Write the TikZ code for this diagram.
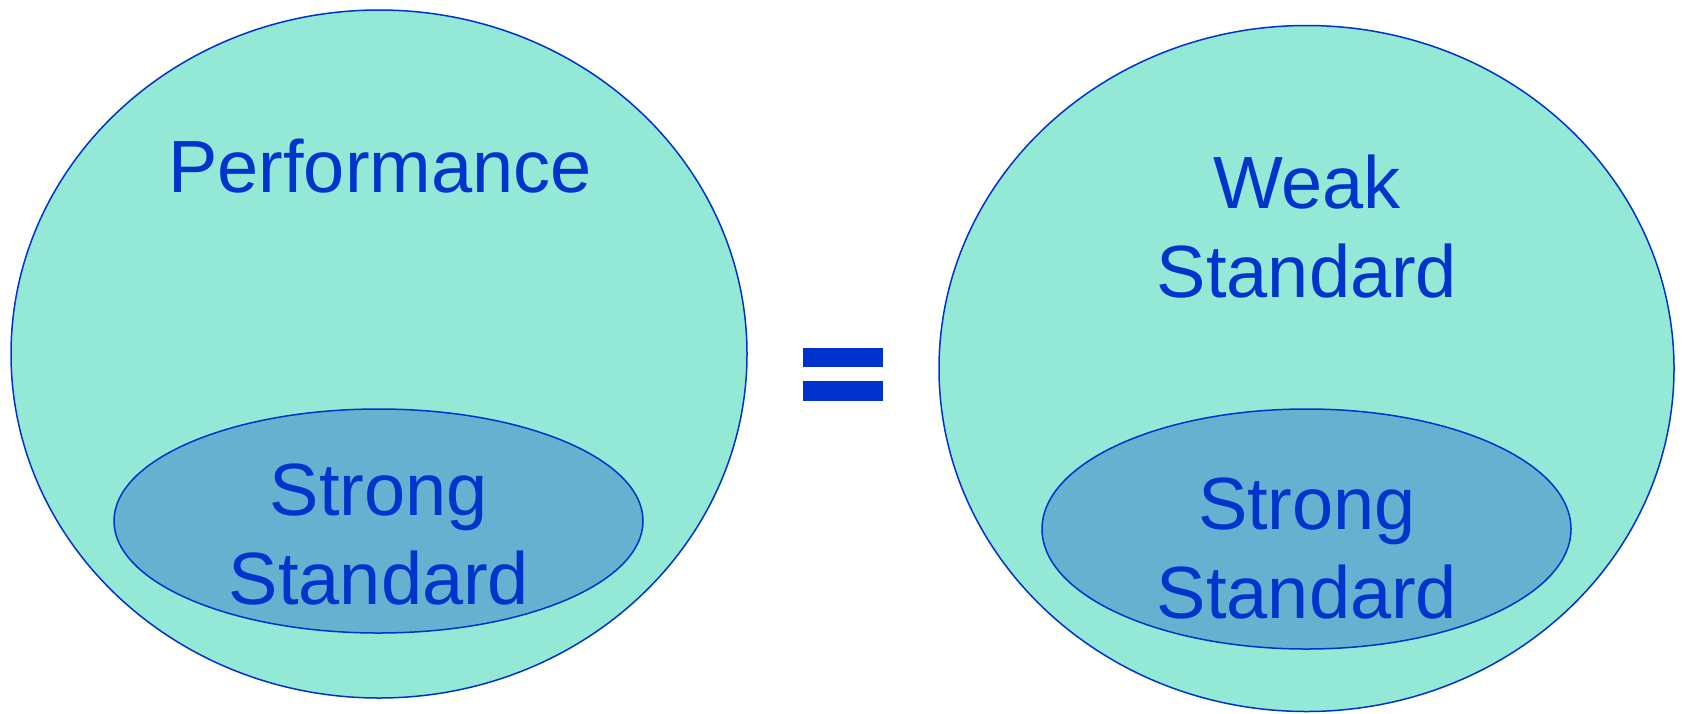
\documentclass[tikz,border=0pt]{standalone}
\usepackage{fontspec}
\setmainfont{Liberation Sans}
\definecolor{outerfill}{HTML}{94E8D6}
\definecolor{innerfill}{HTML}{66B0D0}
\definecolor{inkblue}{HTML}{0033CC}
\tikzset{
  outerset/.style={draw=inkblue, line width=1.5pt, fill=outerfill},
  innerset/.style={draw=inkblue, line width=1.5pt, fill=innerfill},
  label/.style={text=inkblue, inner sep=0pt, align=center, anchor=base,
    font=\fontsize{74}{89}\selectfont},
  eqbar/.style={fill=inkblue, draw=none}
}
\begin{document}
\begin{tikzpicture}[x=1pt,y=-1pt]
\useasboundingbox (0,0) rectangle (1683,713);
% left group
\path[outerset] (379,354) ellipse [x radius=368, y radius=344];
\path[innerset] (378.5,521) ellipse [x radius=264.5, y radius=112];
\node[label] (perf) at (380,192) {Performance};
\node[label] (strongL) at (379,604) {Strong\\Standard};
% equals sign
\path[eqbar] (803,348) rectangle (883,367);
\path[eqbar] (803,381) rectangle (883,401);
% right group
\path[outerset] (1306.5,368.5) ellipse [x radius=367.5, y radius=343];
\path[innerset] (1306.5,529) ellipse [x radius=264.5, y radius=120];
\node[label] (weak) at (1307,297) {Weak\\Standard};
\node[label] (strongR) at (1307,618) {Strong\\Standard};
\end{tikzpicture}
\end{document}
